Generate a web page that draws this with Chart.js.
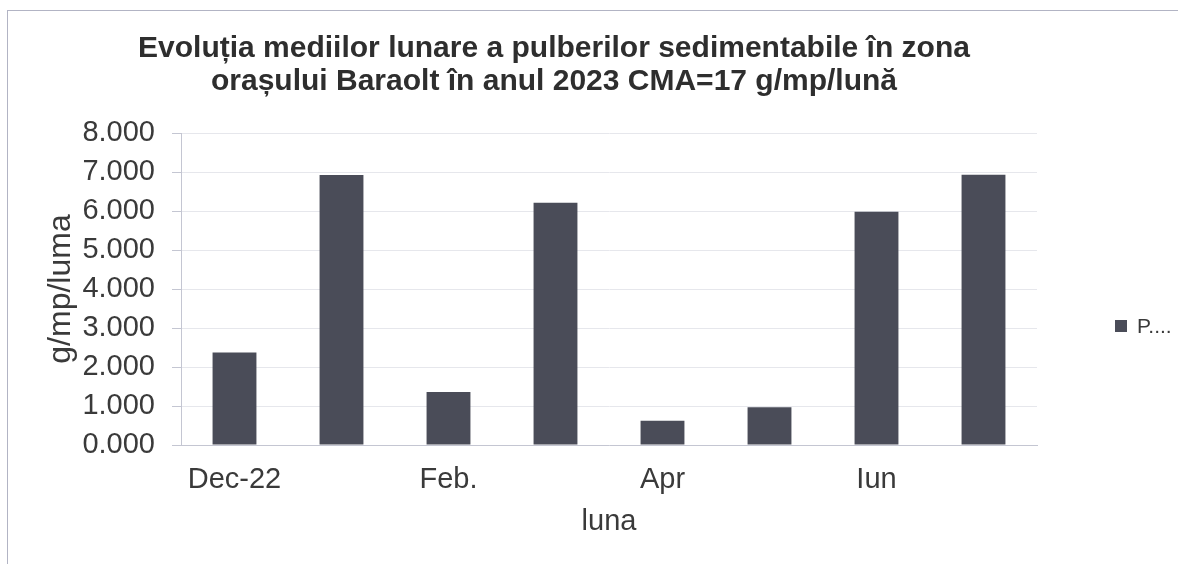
<!DOCTYPE html>
<html>
<head>
<meta charset="utf-8">
<script src="https://cdn.jsdelivr.net/npm/chart.js@4.4.0/dist/chart.umd.min.js"></script>
<style>
    html, body { margin: 0; padding: 0; background: #fff; overflow: hidden; }
    .frame { position: absolute; left: 7px; top: 10px; width: 1200px; height: 600px;
             border-left: 1px solid #b2b4c4; border-top: 1px solid #b2b4c4; }
    .wrap { position: absolute; left: 0; top: 0; width: 1178px; height: 564px; }
</style>
</head>
<body>
<div class="frame"></div>
<div class="wrap"><canvas id="chart" width="1178" height="564"></canvas></div>
<script>
    "use strict";

    // Data
    var categories = ["Dec-22", "Ian", "Feb.", "Mar", "Apr", "Mai", "Iun", "Iul"];
    var values = [2.37, 6.92, 1.36, 6.21, 0.62, 0.97, 5.98, 6.93];
    var seriesName = "P....";
    var yTicks = [0, 1, 2, 3, 4, 5, 6, 7, 8];

    var barColor = "#4a4c58";
    var textColor = "#3a3a3a";
    var fontFamily = "'Liberation Sans', Arial, sans-serif";

    Chart.defaults.font.family = fontFamily;
    Chart.defaults.color = textColor;

    // Legend drawn on the right, Excel style
    var sideLegend = {
        id: "sideLegend",
        afterDraw: function (chart) {
            var ctx = chart.ctx;
            var ds = chart.data.datasets[0];
            ctx.save();
            ctx.fillStyle = ds.backgroundColor;
            ctx.fillRect(1115, 320, 12, 12);
            ctx.fillStyle = textColor;
            ctx.font = "21px " + fontFamily;
            ctx.textBaseline = "middle";
            ctx.textAlign = "left";
            ctx.fillText(ds.label, 1137, 327);
            ctx.restore();
        }
    };

    var ctx = document.getElementById("chart").getContext("2d");
    var myChart = new Chart(ctx, {
        type: "bar",
        data: {
            labels: categories,
            datasets: [{
                label: seriesName,
                data: values,
                backgroundColor: barColor,
                barPercentage: 0.41,
                categoryPercentage: 1
            }]
        },
        plugins: [sideLegend],
        options: {
            responsive: false,
            animation: false,
            layout: { padding: { left: 0, right: 70, top: 0, bottom: 0 } },
            plugins: {
                legend: { display: false },
                tooltip: { enabled: false },
                title: {
                    display: true,
                    text: ["Evoluția mediilor lunare a pulberilor sedimentabile în zona",
                           "orașului Baraolt în anul 2023 CMA=17 g/mp/lună"],
                    color: "#2e2e2e",
                    font: { size: 30, weight: "bold", lineHeight: 1.1 },
                    padding: { top: 32, bottom: 35 }
                }
            },
            scales: {
                x: {
                    grid: { display: false, drawTicks: false },
                    border: { color: "#c4c6d2" },
                    ticks: {
                        autoSkip: false,
                        maxRotation: 0,
                        padding: 18,
                        font: { size: 29 },
                        callback: function (value, index) {
                            return index % 2 === 0 ? categories[index] : "";
                        }
                    },
                    title: {
                        display: true,
                        text: "luna",
                        font: { size: 29 },
                        padding: { top: 0, bottom: 25 }
                    },
                    afterFit: function (scale) { scale.height = 119; }
                },
                y: {
                    min: 0,
                    max: 8,
                    grid: { color: "#e6e7ec", tickColor: "#c4c6d2", tickLength: 9 },
                    border: { color: "#c4c6d2" },
                    afterBuildTicks: function (scale) {
                        scale.ticks = yTicks.map(function (v) { return { value: v }; });
                    },
                    ticks: {
                        padding: 17,
                        font: { size: 29 },
                        callback: function (value) { return value.toFixed(3); }
                    },
                    title: {
                        display: true,
                        text: "g/mp/luma",
                        font: { size: 32 },
                        padding: { top: 42, bottom: 0 }
                    },
                    afterFit: function (scale) { scale.width = 181; }
                },
                // empty band on the right that holds the legend
                legendSpace: {
                    type: "linear",
                    position: "right",
                    grid: { display: false, drawTicks: false },
                    border: { display: false },
                    ticks: { display: false },
                    afterFit: function (scale) { scale.width = 71; }
                }
            }
        }
    });
</script>
</body>
</html>
